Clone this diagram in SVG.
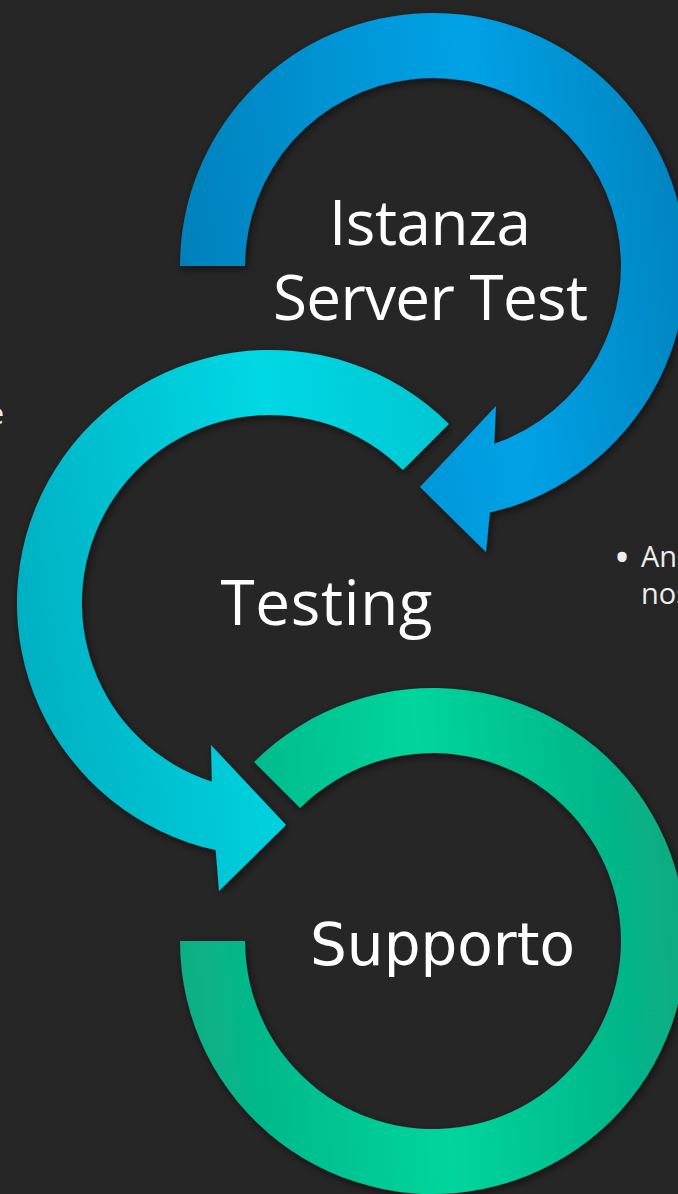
<svg xmlns="http://www.w3.org/2000/svg" width="678" height="1194" viewBox="0 0 678 1194">
  <defs>
    <filter id="sh" x="-20%" y="-20%" width="140%" height="140%">
      <feDropShadow dx="2" dy="3" stdDeviation="4" flood-color="#000" flood-opacity="0.55"/>
    </filter>
    <linearGradient id="gBlue" gradientUnits="userSpaceOnUse" x1="180" y1="300" x2="686" y2="230">
      <stop offset="0" stop-color="#0080BB"/>
      <stop offset="0.62" stop-color="#00A2E6"/>
      <stop offset="1" stop-color="#0084C0"/>
    </linearGradient>
    <linearGradient id="gCyan" gradientUnits="userSpaceOnUse" x1="17" y1="640" x2="523" y2="560">
      <stop offset="0" stop-color="#00B0C2"/>
      <stop offset="0.55" stop-color="#00D8E4"/>
      <stop offset="1" stop-color="#00C2CD"/>
    </linearGradient>
    <linearGradient id="gGreen" gradientUnits="userSpaceOnUse" x1="180" y1="960" x2="686" y2="920">
      <stop offset="0" stop-color="#08AE84"/>
      <stop offset="0.5" stop-color="#00D59D"/>
      <stop offset="1" stop-color="#08AA82"/>
    </linearGradient>
    <style>
      .lbl { fill: #FFFFFF; font-family: "Open Sans", "Noto Sans", sans-serif; font-size: 62px; text-anchor: middle; }
      .lbl2 { fill: #FFFFFF; font-family: "DejaVu Sans", sans-serif; font-size: 58px; text-anchor: middle; }
      .side { fill: #EDEDED; font-family: "Open Sans", "Noto Sans", sans-serif; font-size: 29px; }
    </style>
  </defs>
  <rect x="0" y="0" width="678" height="1194" fill="#262626"/>

  <text class="side" x="4" y="424" text-anchor="end">e</text>
  <text class="side" x="622" y="573" text-anchor="middle" style="font-size:44px">•</text>
  <text class="side" x="641" y="567">An</text>
  <text class="side" x="641" y="604">nos</text>

  <g id="connectors">
    <path id="arrow-supporto" filter="url(#sh)" fill="url(#gGreen)"
      d="M 254.1 762.1 A 253 253 0 1 1 180 941 L 245 941 A 188 188 0 1 0 300.1 808.1 Z"/>
    <path id="arrow-testing" filter="url(#sh)" fill="url(#gCyan)"
      d="M 448.9 424.1 A 253 253 0 1 0 215.7 850.1 L 219 891 L 286 825 L 211 745 L 211.9 781.8 A 188 188 0 1 1 402.9 470.1 Z"/>
    <path id="arrow-istanza" filter="url(#sh)" fill="url(#gBlue)"
      d="M 180 266 A 253 253 0 1 1 489.9 512.5 L 486 552 L 420 487 L 496 406 L 494.2 443.8 A 188 188 0 1 0 245 266 Z"/>
  </g>

  <g id="node-istanza">
    <text class="lbl" x="430" y="245" textLength="202">Istanza</text>
    <text class="lbl" x="430.5" y="320" textLength="315">Server Test</text>
  </g>
  <g id="node-testing">
    <text class="lbl" x="326.5" y="625" textLength="212">Testing</text>
  </g>
  <g id="node-supporto">
    <text class="lbl2" x="442.5" y="965" textLength="265">Supporto</text>
  </g>
</svg>
